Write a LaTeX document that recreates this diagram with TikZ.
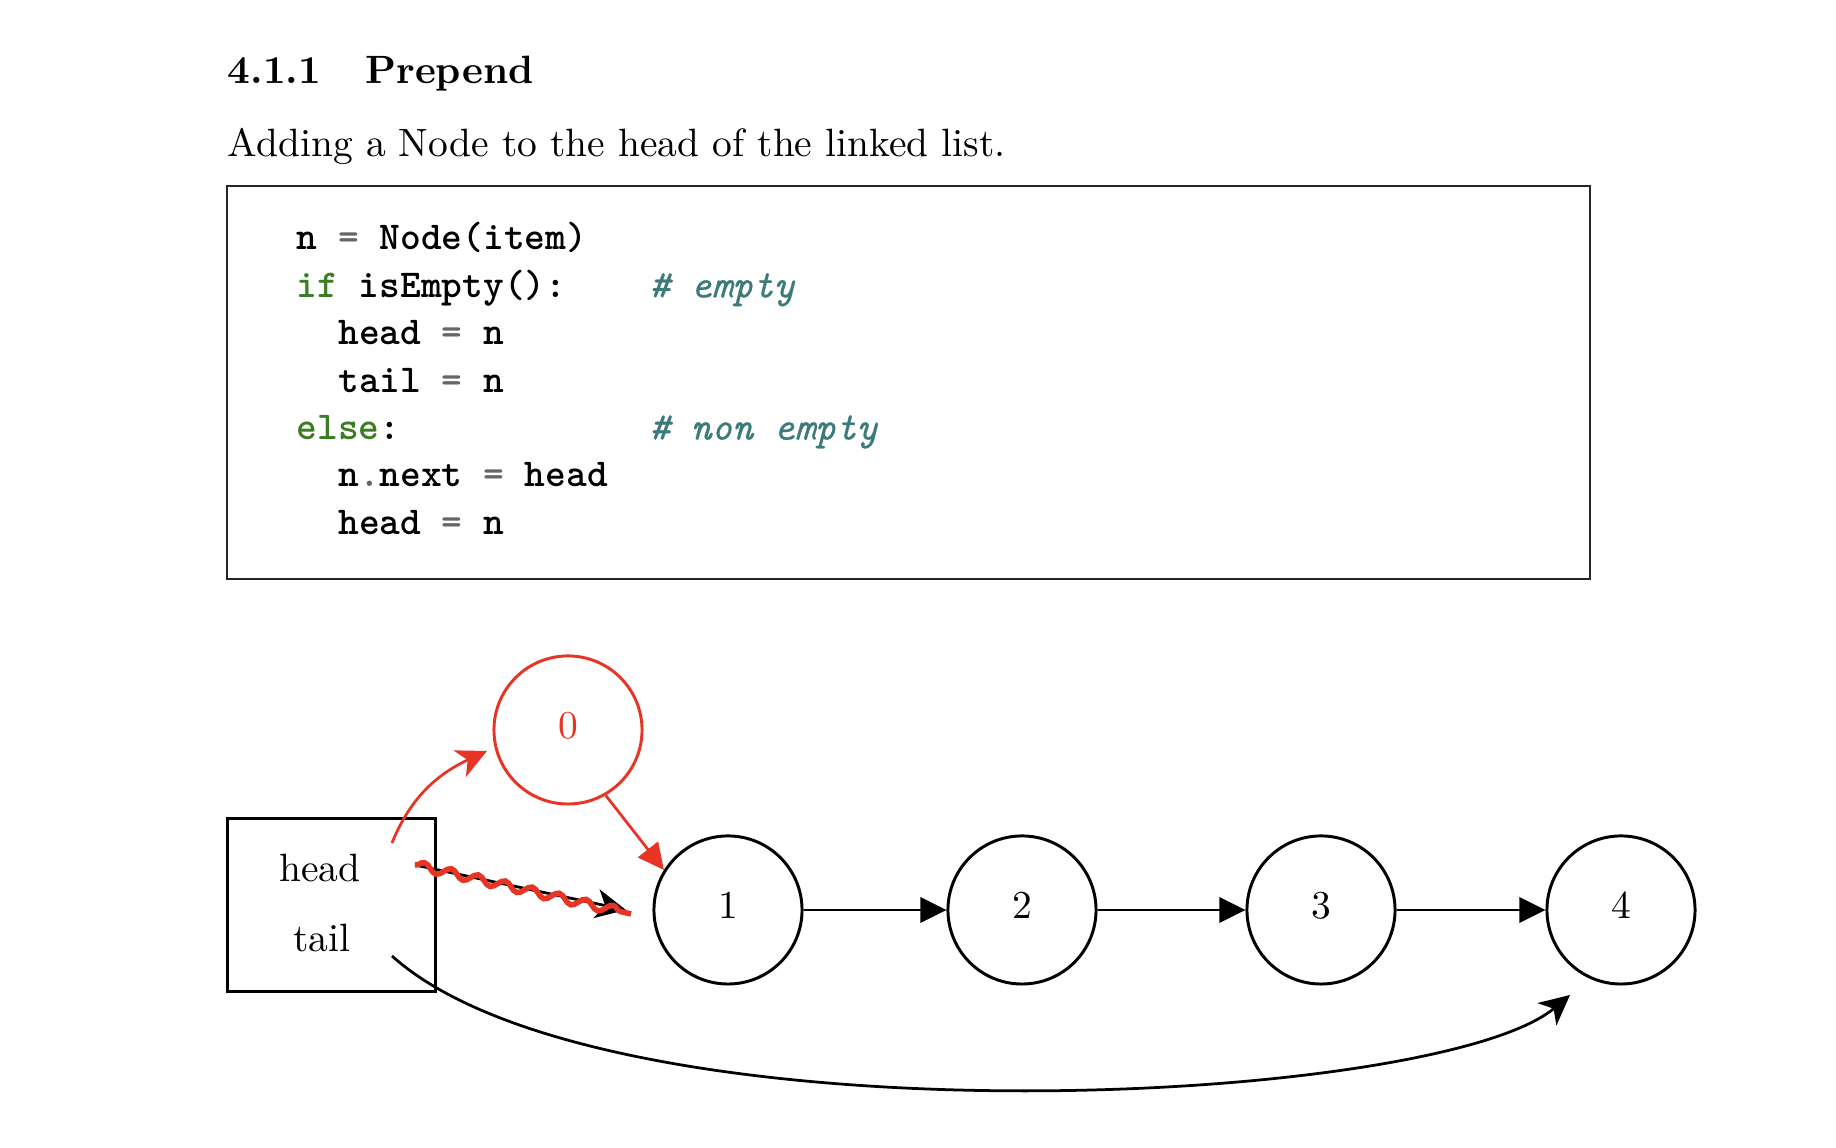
\documentclass[tikz,border=0pt]{standalone}
\usepackage{fontspec}
\usetikzlibrary{arrows.meta,decorations.pathmorphing}
\newfontfamily\cmtfont[FakeBold=0.6]{lmmono10-italic.otf}
\definecolor{kwgreen}{HTML}{3B7D23}
\definecolor{cmtteal}{HTML}{3D7B7B}
\definecolor{opgray}{HTML}{666666}
\definecolor{lred}{RGB}{231,52,36}
\begin{document}
\begin{tikzpicture}[x=0.2532pt,y=0.2532pt,
  lnode/.style={circle,draw,line width=0.75pt,minimum size=37.5pt,inner sep=0pt,text depth=2.4pt},
  txt/.style={anchor=base west,inner sep=0pt},
  codeln/.style={anchor=base west,inner sep=0pt,font=\ttfamily\bfseries\frenchspacing},
  cmt/.style={anchor=base west,inner sep=0pt,font=\cmtfont,text=cmtteal},
  tri/.style={-{Triangle[length=6.6pt,width=6.4pt]}},
  stl/.style={-{Stealth[length=7.6pt,width=7.4pt,inset=2.2pt]}},
  conn/.style={line width=0.7pt}
]
\useasboundingbox (0,0) rectangle (1836,1148);
% heading and text
\node[txt,font=\bfseries] (title) at (227,1064) {4.1.1\quad\hspace{1.2pt}Prepend};
\node[txt] (intro) at (227,991) {Adding a Node to the head of the linked list.};
% code box
\node[draw=black!85,line width=0.45pt,minimum width=345.1pt,minimum height=99.5pt,inner sep=0pt] (codebox) at (908.5,765.5) {};
\node[codeln] (c1) at (296,898) {n \textcolor{opgray}{=} Node(item)};
\node[codeln] (c2) at (296,850.6) {\textcolor{kwgreen}{if} isEmpty():};
\node[cmt] (m2) at (648.6,850.6) {\# empty};
\node[codeln] (c3) at (337.5,803.2) {head \textcolor{opgray}{=} n};
\node[codeln] (c4) at (337.5,755.8) {tail \textcolor{opgray}{=} n};
\node[codeln] (c5) at (296,708.4) {\textcolor{kwgreen}{else}:};
\node[cmt] (m5) at (648.6,708.4) {\# non empty};
\node[codeln] (c6) at (337.5,661) {n\textcolor{opgray}{.}next \textcolor{opgray}{=} head};
\node[codeln] (c7) at (337.5,613.6) {head \textcolor{opgray}{=} n};
% head/tail box
\node[draw,line width=0.75pt,minimum width=52.9pt,minimum height=44pt,inner sep=0pt] (ht) at (331.5,243) {};
\node[anchor=base,inner sep=0pt] (hd) at (320,266) {head};
\node[anchor=base,inner sep=0pt] (tl) at (322,196) {tail};
% list nodes
\node[lnode,draw=lred,text=lred] (n0) at (568,418) {0};
\node[lnode] (n1) at (728,238) {1};
\node[lnode] (n2) at (1022,238) {2};
\node[lnode] (n3) at (1321,238) {3};
\node[lnode] (n4) at (1621,238) {4};
% coordinates for free arrow ends
\coordinate (hs0) at (392,305);
\coordinate (he0) at (487,397);
\coordinate (hs1) at (415,283);
\coordinate (he1) at (626,238);
\coordinate (sn1) at (631,234);
\coordinate (ts) at (392,192);
\coordinate (te) at (1570,153);
% connectors
\draw[conn,tri] (n1) -- (n2);
\draw[conn,tri] (n2) -- (n3);
\draw[conn,tri] (n3) -- (n4);
\draw[conn,tri,draw=lred] (n0.300) -- (n1.148);
\draw[conn,stl,draw=lred] (hs0) to[out=68,in=-155] (he0);
\draw[conn,stl] (hs1) -- (he1);
\draw[lred,line width=1.4pt,decorate,decoration={snake,segment length=7pt,amplitude=1.1pt}] (hs1) -- (sn1);
\draw[conn,stl] (ts) .. controls +(-42:285) and +(-140:175) .. (te);
\end{tikzpicture}
\end{document}
